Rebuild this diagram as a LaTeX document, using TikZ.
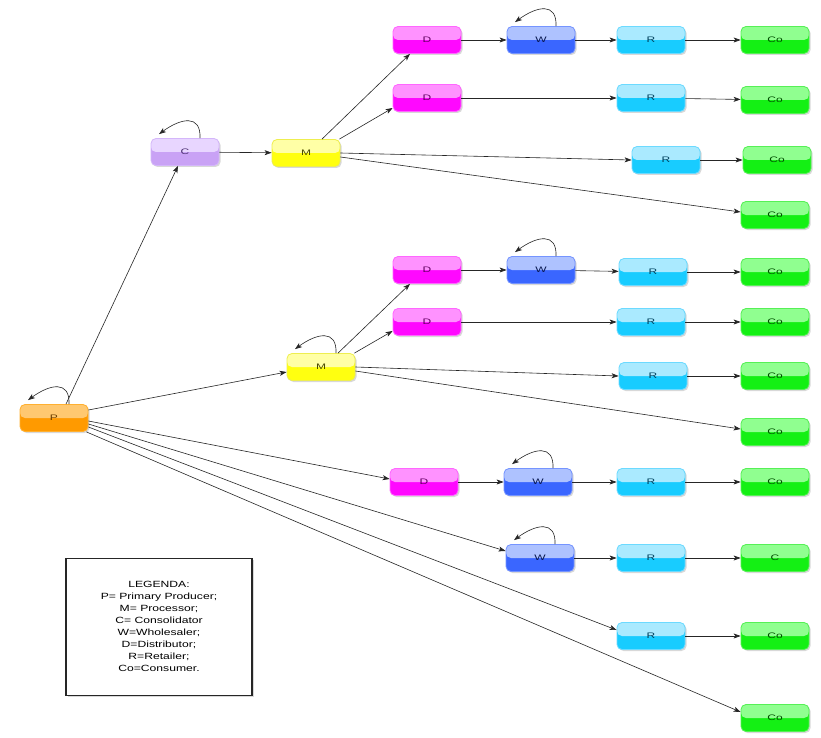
\documentclass[tikz,border=0pt]{standalone}
\usepackage{graphicx}
\usepackage{fontspec}
\setmainfont{Liberation Sans}
\usetikzlibrary{arrows.meta,shadows}

% stage colours: light upper half, saturated lower half, border, label
\definecolor{prodT}{HTML}{FFC870}\definecolor{prodB}{HTML}{FF9A00}\definecolor{prodE}{HTML}{FFB030}\definecolor{prodL}{HTML}{6A3E00}
\definecolor{consT}{HTML}{E8D6FF}\definecolor{consB}{HTML}{C9A2F5}\definecolor{consE}{HTML}{D4B6FA}\definecolor{consL}{HTML}{4A2E70}
\definecolor{procT}{HTML}{FFFFA6}\definecolor{procB}{HTML}{FFFF10}\definecolor{procE}{HTML}{EEEE50}\definecolor{procL}{HTML}{4A4A00}
\definecolor{distT}{HTML}{FF92FF}\definecolor{distB}{HTML}{FF08FF}\definecolor{distE}{HTML}{FF66FF}\definecolor{distL}{HTML}{600060}
\definecolor{wholT}{HTML}{AEC2FF}\definecolor{wholB}{HTML}{3A66FF}\definecolor{wholE}{HTML}{7594FF}\definecolor{wholL}{HTML}{0A1850}
\definecolor{retaT}{HTML}{AAEAFF}\definecolor{retaB}{HTML}{18CCFF}\definecolor{retaE}{HTML}{6CDAFF}\definecolor{retaL}{HTML}{00425E}
\definecolor{custT}{HTML}{90FF90}\definecolor{custB}{HTML}{14F014}\definecolor{custE}{HTML}{56F056}\definecolor{custL}{HTML}{004E00}

% horizontally widened lettering
\newcommand\widetext[2]{\scalebox{#1}[1]{#2}}
\newcommand\lbl[1]{\widetext{1.5}{#1}}

\tikzset{
  stage/.style n args={4}{rectangle, rounded corners=5pt,
    minimum width=68pt, minimum height=27pt, inner sep=0pt,
    draw=#3, line width=0.8pt, fill=#2, text=#4,
    font=\fontsize{8}{9}\selectfont,
    path picture={\fill[#1] (path picture bounding box.north west)
                   rectangle (path picture bounding box.east);},
    drop shadow={shadow xshift=1.5pt, shadow yshift=-1.5pt, opacity=0.3}},
  prod/.style={stage={prodT}{prodB}{prodE}{prodL}},
  cons/.style={stage={consT}{consB}{consE}{consL}},
  proc/.style={stage={procT}{procB}{procE}{procL}},
  dist/.style={stage={distT}{distB}{distE}{distL}},
  whol/.style={stage={wholT}{wholB}{wholE}{wholL}},
  reta/.style={stage={retaT}{retaB}{retaE}{retaL}},
  cust/.style={stage={custT}{custB}{custE}{custL}},
  flow/.style={-{Stealth[length=7pt,width=5pt,inset=1.8pt]}, line width=0.6pt, black!85},
  legendbox/.style={draw=black!85, line width=1.1pt, fill=white,
    minimum width=186pt, minimum height=137pt, inner sep=0pt,
    font=\fontsize{9}{12}\selectfont,
    drop shadow={shadow xshift=1.5pt, shadow yshift=-1.5pt, opacity=0.3}}
}

% arrow that leaves the top of a stage and returns to it
\newcommand\selfloop[1]{%
  \draw[flow] ([xshift=15pt]#1.north) .. controls +(1pt,24pt) and +(22pt,16pt) ..
    ([xshift=-26pt,yshift=4pt]#1.north);}

\begin{document}
\begin{tikzpicture}[x=1pt,y=-1pt]
\useasboundingbox[fill=white] (0,0) rectangle (821,738);

% producer, consolidator and processors
\node[prod] (P)  at (54,418)  {\lbl{P}};
\node[cons] (C)  at (185,152) {\lbl{C}};
\node[proc] (M1) at (306,153) {\lbl{M}};
\node[proc] (M2) at (321,367) {\lbl{M}};

% chains after the first processor
\node[dist] (D1)  at (427,40)  {\lbl{D}};
\node[whol] (W1)  at (541,40)  {\lbl{W}};
\node[reta] (R1)  at (651,40)  {\lbl{R}};
\node[cust] (Co1) at (775,40)  {\lbl{Co}};
\node[dist] (D2)  at (427,98)  {\lbl{D}};
\node[reta] (R2)  at (651,98)  {\lbl{R}};
\node[cust] (Co2) at (775,100) {\lbl{Co}};
\node[reta] (R3)  at (666,160) {\lbl{R}};
\node[cust] (Co3) at (777,160) {\lbl{Co}};
\node[cust] (Co4) at (775,215) {\lbl{Co}};

% chains after the second processor
\node[dist] (D5)  at (427,270) {\lbl{D}};
\node[whol] (W5)  at (541,270) {\lbl{W}};
\node[reta] (R5)  at (653,272) {\lbl{R}};
\node[cust] (Co5) at (775,272) {\lbl{Co}};
\node[dist] (D6)  at (427,322) {\lbl{D}};
\node[reta] (R6)  at (651,322) {\lbl{R}};
\node[cust] (Co6) at (775,322) {\lbl{Co}};
\node[reta] (R7)  at (653,376) {\lbl{R}};
\node[cust] (Co7) at (775,376) {\lbl{Co}};
\node[cust] (Co8) at (775,432) {\lbl{Co}};

% chains leaving the producer directly
\node[dist] (D9)   at (424,482) {\lbl{D}};
\node[whol] (W9)   at (538,482) {\lbl{W}};
\node[reta] (R9)   at (651,482) {\lbl{R}};
\node[cust] (Co9)  at (775,482) {\lbl{Co}};
\node[whol] (W10)  at (540,558) {\lbl{W}};
\node[reta] (R10)  at (651,558) {\lbl{R}};
\node[cust] (Co10) at (775,558) {\lbl{C}};
\node[reta] (R11)  at (651,636) {\lbl{R}};
\node[cust] (Co11) at (775,636) {\lbl{Co}};
\node[cust] (Co12) at (775,718) {\lbl{Co}};

% legend
\node[legendbox] (leg) at (159,627) {\widetext{1.35}{\begin{tabular}{@{}c@{}}LEGENDA:\\P= Primary Producer;\\M= Processor;\\C= Consolidator\\W=Wholesaler;\\D=Distributor;\\R=Retailer;\\Co=Consumer.\end{tabular}}};

% connectors from the producer
\draw[flow] ([xshift=12pt]P.north) -- ([xshift=-7pt]C.south);
\draw[flow] ([yshift=8pt]P.east) -- ([yshift=-5pt]M2.west);
\draw[flow] ([yshift=-3pt]P.east) -- ([yshift=3pt]D9.west);
\draw[flow] ([yshift=-6pt]P.east) -- ([yshift=7pt]W10.west);
\draw[flow] ([yshift=-9pt]P.east) -- ([yshift=6pt]R11.west);
\draw[flow] ([xshift=-2pt]P.south east) -- ([yshift=6pt]Co12.west);

% first processor branch
\draw[flow] (C) -- (M1);
\draw[flow] ([xshift=16pt]M1.north) -- ([xshift=-17pt]D1.south);
\draw[flow] ([xshift=-1pt]M1.north east) -- ([yshift=-10pt]D2.west);
\draw[flow] (M1.east) -- (R3.west);
\draw[flow] ([yshift=-4pt]M1.east) -- ([yshift=3pt]Co4.west);
\draw[flow] (D1) -- (W1);
\draw[flow] (W1) -- (R1);
\draw[flow] (R1) -- (Co1);
\draw[flow] (D2) -- (R2);
\draw[flow] (R2) -- (Co2);
\draw[flow] (R3) -- (Co3);

% second processor branch
\draw[flow] ([xshift=17pt]M2.north) -- ([xshift=-17pt]D5.south);
\draw[flow] ([xshift=-1pt]M2.north east) -- ([yshift=-9pt]D6.west);
\draw[flow] (M2.east) -- (R7.west);
\draw[flow] ([yshift=-4pt]M2.east) -- ([yshift=3pt]Co8.west);
\draw[flow] (D5) -- (W5);
\draw[flow] (W5) -- (R5);
\draw[flow] (R5) -- (Co5);
\draw[flow] (D6) -- (R6);
\draw[flow] (R6) -- (Co6);
\draw[flow] (R7) -- (Co7);

% direct chains
\draw[flow] (D9) -- (W9);
\draw[flow] (W9) -- (R9);
\draw[flow] (R9) -- (Co9);
\draw[flow] (W10) -- (R10);
\draw[flow] (R10) -- (Co10);
\draw[flow] (R11) -- (Co11);

% stages that also supply themselves
\selfloop{P}
\selfloop{C}
\selfloop{M2}
\selfloop{W1}
\selfloop{W5}
\selfloop{W9}
\selfloop{W10}
\end{tikzpicture}
\end{document}
